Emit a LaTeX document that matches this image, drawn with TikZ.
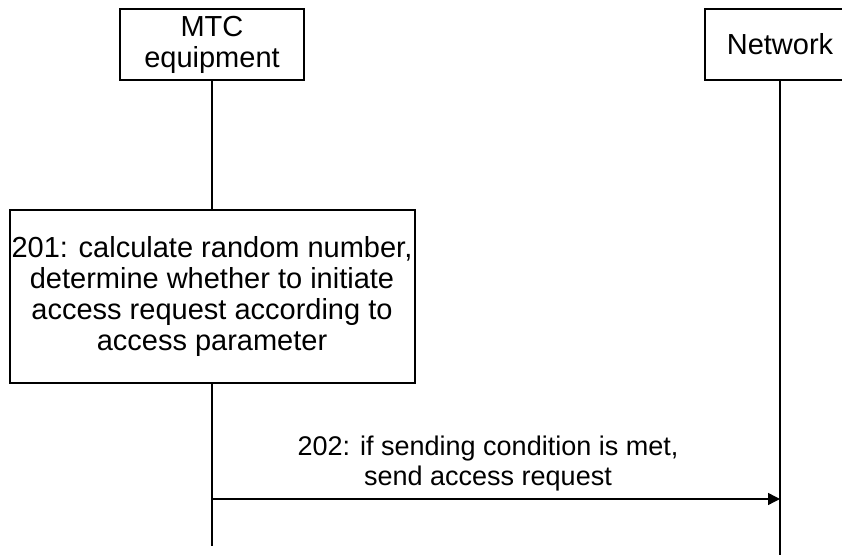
\documentclass[tikz,border=0pt]{standalone}
\usepackage{fontspec}
\setmainfont{Liberation Sans}
\usetikzlibrary{positioning,arrows.meta}

\begin{document}
\begin{tikzpicture}[
  font=\fontsize{14.5pt}{15.5pt}\selectfont,
  entity/.style={rectangle, draw=black, line width=1pt, align=center, inner sep=0pt, minimum width=92pt, minimum height=35.5pt},
  stepbox/.style={rectangle, draw=black, line width=1pt, align=center, inner sep=0pt, minimum width=202.5pt, minimum height=86.5pt},
  life/.style={-, line width=1pt},
  msg/.style={-{Triangle[length=6pt, width=6pt]}, line width=0.7pt},
  lbl/.style={above, align=center, inner sep=3.5pt, xshift=-4pt, font=\fontsize{13.5pt}{15pt}\selectfont}
  ]

\clip (0pt,0pt) rectangle (421pt,-277.5pt);

\node [entity] (mtc) at (106pt,-22.25pt) {MTC\\equipment};
\node [entity, right=199.5pt of mtc, minimum width=75pt] (net) {Network};
\node [stepbox, below=64pt of mtc] (s201) {201: calculate random number,\\determine whether to initiate\\access request according to\\access parameter};

\coordinate [below=81pt of s201.south] (mtcend);
\coordinate [below=237.5pt of net.south] (netend);
\coordinate [below=57.5pt of s201.south] (req0);
\coordinate (req1) at (req0 -| net.south);

\draw [life] (mtc) -- (s201);
\draw [life] (s201) -- (mtcend);
\draw [life] (net) -- (netend);

\draw [msg] (req0) -- node [lbl] {202: if sending condition is met,\\send access request} (req1);

\end{tikzpicture}
\end{document}
